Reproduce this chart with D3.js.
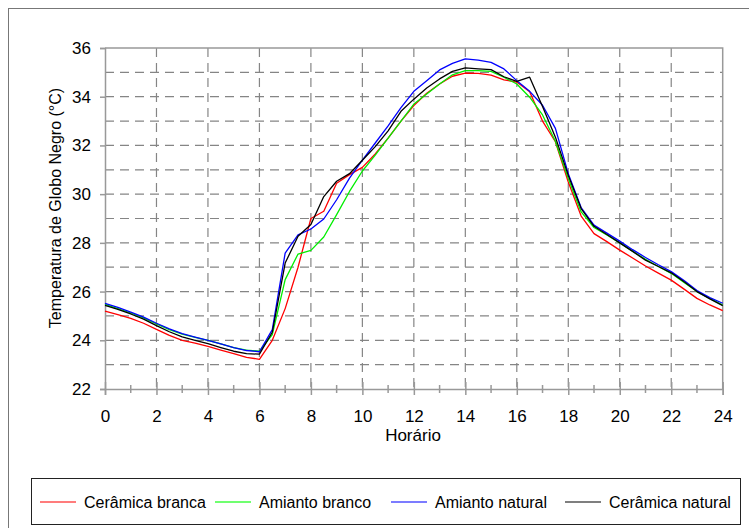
<!DOCTYPE html>
<html>
<head>
<meta charset="utf-8">
<script src="https://cdn.jsdelivr.net/npm/d3@7"></script>
<style>
  body { margin: 0; background: #fff; }
  svg { display: block; font-family: "Liberation Sans", Arial, sans-serif; }
</style>
</head>
<body>
<div id="chart"></div>
<script>
// horario (h), one reading every half hour
const hours = d3.range(0, 24.01, 0.5);

const ceramicaBranca = [25.2, 25.05, 24.9, 24.7, 24.45, 24.2, 24.0, 23.88, 23.75, 23.6, 23.45, 23.3, 23.22,
  24.0, 25.3, 27.0, 29.0, 29.3, 30.45, 30.8, 31.1, 31.65, 32.3, 33.0, 33.64, 34.14, 34.52, 34.84, 34.97,
  34.96, 34.89, 34.69, 34.6, 34.2, 33.0, 32.15, 30.5, 29.1, 28.38, 28.05, 27.7, 27.38, 27.05, 26.76,
  26.47, 26.1, 25.72, 25.45, 25.22];

const amiantoBranco = [25.47, 25.3, 25.12, 24.92, 24.67, 24.44, 24.25, 24.12, 24.0, 23.85, 23.7, 23.6, 23.55,
  24.23, 26.49, 27.54, 27.69, 28.24, 29.16, 30.11, 30.95, 31.6, 32.3, 33.0, 33.7, 34.11, 34.52, 34.9, 35.07,
  35.07, 35.04, 34.8, 34.52, 33.98, 33.25, 32.17, 30.64, 29.27, 28.63, 28.32, 28.0, 27.66, 27.32, 27.03,
  26.75, 26.37, 26.0, 25.72, 25.45];

const amiantoNatural = [25.52, 25.35, 25.16, 24.95, 24.7, 24.47, 24.27, 24.13, 24.0, 23.85, 23.7, 23.58, 23.53,
  24.44, 27.58, 28.33, 28.57, 28.98, 29.77, 30.66, 31.4, 32.1, 32.8, 33.55, 34.22, 34.66, 35.1, 35.37, 35.55,
  35.5, 35.41, 35.14, 34.66, 34.22, 33.65, 32.7, 30.84, 29.45, 28.73, 28.4, 28.07, 27.72, 27.4, 27.1,
  26.82, 26.45, 26.04, 25.75, 25.52];

const ceramicaNatural = [25.43, 25.27, 25.08, 24.87, 24.6, 24.35, 24.14, 24.0, 23.86, 23.7, 23.55, 23.45, 23.43,
  24.33, 27.17, 28.27, 28.75, 29.9, 30.53, 30.84, 31.39, 31.95, 32.6, 33.4, 33.9, 34.36, 34.73, 35.04, 35.18,
  35.14, 35.11, 34.82, 34.63, 34.8, 33.6, 32.34, 30.77, 29.41, 28.68, 28.34, 28.0, 27.65, 27.29, 27.03,
  26.77, 26.4, 26.0, 25.7, 25.42];

const seriesNames = ["Cerâmica branca", "Amianto branco", "Amianto natural", "Cerâmica natural"];
const seriesColors = ["#ff0000", "#00ee00", "#0000ff", "#000000"];
const legendColors = ["#ff5050", "#40ff40", "#5050ff", "#555555"];
const xTicks = d3.range(0, 25, 2);
const yTicks = d3.range(22, 37, 2);

const series = [ceramicaBranca, amiantoBranco, amiantoNatural, ceramicaNatural];

// size of the svg
const svgWidth = 749;
const svgHeight = 528;

const svg = d3.select("#chart")
  .append("svg")
    .attr("width", svgWidth)
    .attr("height", svgHeight);

// outer frame
svg.append("rect")
  .attr("x", 8.5).attr("y", 8.5)
  .attr("width", 760).attr("height", 540)
  .attr("fill", "none")
  .attr("stroke", "#777")
  .attr("stroke-width", 1);

const x = d3.scaleLinear().domain([0, 24]).range([105, 722.7]);
const y = d3.scaleLinear().domain([22, 36]).range([389, 48]);

const gridColor = "#858585";

// horizontal dashed grid, every 1 degree
svg.append("g").selectAll("line")
  .data(d3.range(23, 36, 1))
  .enter()
  .append("line")
    .attr("x1", x(0)).attr("x2", x(24))
    .attr("y1", d => y(d)).attr("y2", d => y(d))
    .attr("stroke", gridColor)
    .attr("stroke-width", 1.2)
    .attr("stroke-dasharray", "9,6");

// vertical dashed grid, every 2 hours
svg.append("g").selectAll("line")
  .data(d3.range(2, 24, 2))
  .enter()
  .append("line")
    .attr("x1", d => x(d)).attr("x2", d => x(d))
    .attr("y1", y(36)).attr("y2", y(22))
    .attr("stroke", gridColor)
    .attr("stroke-width", 1.2)
    .attr("stroke-dasharray", "9,6");

// plot frame top / right
svg.append("path")
  .attr("d", "M" + x(0) + "," + y(36) + "H" + x(24) + "V" + y(22))
  .attr("fill", "none")
  .attr("stroke", "#999")
  .attr("stroke-width", 1.5);

// y axis
const yAxis = svg.append("g")
  .attr("transform", "translate(" + x(0) + ",0)")
  .call(d3.axisLeft(y).tickValues(yTicks).tickSize(5).tickPadding(9).tickFormat(d3.format("d")));
yAxis.select(".domain").attr("stroke", "#999").attr("stroke-width", 1.5);
yAxis.selectAll(".tick line").attr("stroke", "#999").attr("stroke-width", 1.5);
yAxis.selectAll(".tick text")
  .attr("fill", "#000")
  .style("font-size", "17px")
  .style("font-family", "'Liberation Sans', Arial, sans-serif");

// x axis: major ticks cross the axis, minor ticks at odd hours
const xAxis = svg.append("g")
  .attr("transform", "translate(0," + y(22) + ")")
  .call(d3.axisBottom(x).tickValues(xTicks).tickSize(6).tickPadding(15).tickFormat(d3.format("d")));
xAxis.select(".domain").attr("stroke", "#999").attr("stroke-width", 1.5);
xAxis.selectAll(".tick line").attr("stroke", "#999").attr("stroke-width", 1.5).attr("y1", -7);
xAxis.selectAll(".tick text")
  .attr("fill", "#000")
  .style("font-size", "17px")
  .style("font-family", "'Liberation Sans', Arial, sans-serif");

svg.append("g").selectAll("line")
  .data(d3.range(1, 24, 2))
  .enter()
  .append("line")
    .attr("x1", d => x(d)).attr("x2", d => x(d))
    .attr("y1", y(22) - 4).attr("y2", y(22) + 4)
    .attr("stroke", "#999")
    .attr("stroke-width", 1.5);

// series lines
const line = d3.line()
  .x((d, i) => x(hours[i]))
  .y(d => y(d));

svg.append("g").selectAll("path")
  .data(series)
  .enter()
  .append("path")
    .attr("d", line)
    .attr("fill", "none")
    .attr("stroke", (d, i) => seriesColors[i])
    .attr("stroke-width", 1.3)
    .attr("stroke-linejoin", "round");

// axis titles
svg.append("text")
  .attr("x", 413)
  .attr("y", 441)
  .attr("text-anchor", "middle")
  .style("font-size", "17px")
  .text("Horário");

svg.append("text")
  .attr("transform", "translate(61,208) rotate(-90)")
  .attr("text-anchor", "middle")
  .style("font-size", "16px")
  .text("Temperatura de Globo Negro (°C)");

// legend
svg.append("rect")
  .attr("x", 31.5).attr("y", 478.5)
  .attr("width", 709).attr("height", 46)
  .attr("fill", "#fff")
  .attr("stroke", "#222")
  .attr("stroke-width", 1);

const legendLineX = [40, 215, 391, 565];
const legendY = 502;

const legend = svg.append("g").selectAll("g")
  .data(seriesNames)
  .enter()
  .append("g")
    .attr("transform", (d, i) => "translate(" + legendLineX[i] + "," + legendY + ")");

legend.append("line")
  .attr("x1", 0).attr("x2", 36)
  .attr("y1", 0).attr("y2", 0)
  .attr("stroke", (d, i) => legendColors[i])
  .attr("stroke-width", 1.5);

legend.append("text")
  .attr("x", 44)
  .attr("y", 0)
  .attr("dominant-baseline", "central")
  .style("font-size", "16px")
  .text(d => d);
</script>
</body>
</html>
